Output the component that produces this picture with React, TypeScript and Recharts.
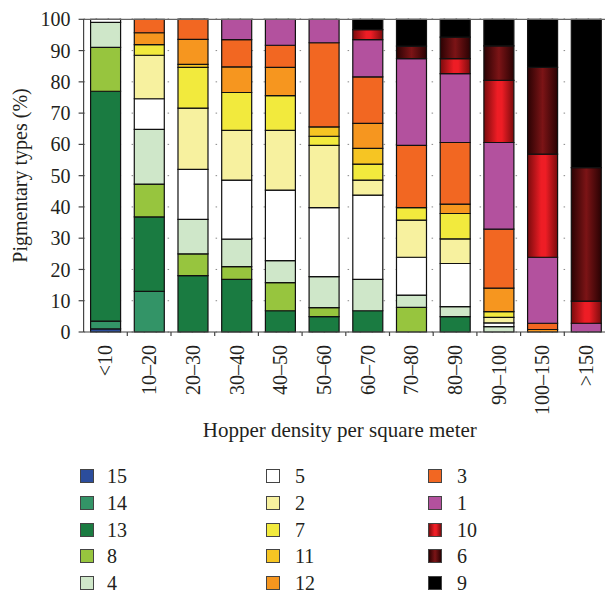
import React from 'react';
import { BarChart, Bar, XAxis, YAxis, CartesianGrid, ReferenceLine, Label } from 'recharts';

const categories = ['<10', '10–20', '20–30', '30–40', '40–50', '50–60', '60–70', '70–80', '80–90', '90–100', '100–150', '>150'];

// pigmentary type shares (%), stacked bottom to top
const type15 = [1, 0, 0, 0, 0, 0, 0, 0, 0, 0, 0, 0];
const type14 = [2.5, 13, 0, 0, 0, 0, 0, 0, 0, 0, 0, 0];
const type13 = [73.5, 23.8, 18, 16.8, 6.8, 4.9, 6.8, 0, 4.9, 0, 0, 0];
const type8 = [14, 10.5, 7, 4.1, 9, 2.9, 0, 7.9, 0, 0, 0, 0];
const type4 = [8, 17.5, 11, 8.8, 7, 9.9, 10, 3.9, 3.2, 1.7, 0, 0];
const type5 = [1, 9.8, 16, 18.9, 22.6, 22.1, 27, 12.1, 13.8, 1.2, 0, 0];
const type2 = [0, 13.9, 19.6, 15.9, 19.1, 19.9, 4.8, 11.9, 7.9, 1.8, 0, 0];
const type7 = [0, 3.4, 13, 12.1, 11.1, 2.9, 5.1, 4, 8.1, 1.8, 0, 0];
const type11 = [0, 0, 1, 0, 0, 3, 5, 0, 0, 0, 0, 0];
const type12 = [0, 3.8, 8, 8.2, 9, 0, 8, 0, 3, 7.5, 0.8, 0];
const type3 = [0, 4.3, 6.5, 8.7, 7.1, 26.9, 14.9, 19.9, 19.7, 18.9, 2, 0];
const type1 = [0, 0, 0, 6.5, 8.3, 7.5, 11.9, 27.7, 22, 27.7, 21.1, 2.8];
const type10 = [0, 0, 0, 0, 0, 0, 3.2, 0, 4.8, 19.9, 33, 7.1];
const type6 = [0, 0, 0, 0, 0, 0, 0, 4, 6.9, 11, 27.7, 42.7];
const type9 = [0, 0, 0, 0, 0, 0, 3.3, 8.6, 5.7, 8.5, 15.4, 47.4];

const yTicks = [0, 10, 20, 30, 40, 50, 60, 70, 80, 90, 100];

const series = [
  { name: '15', values: type15, fill: '#2b4d9c', swatch: '#2b4d9c' },
  { name: '14', values: type14, fill: '#339467', swatch: '#339467' },
  { name: '13', values: type13, fill: '#1a7b41', swatch: '#1a7b41' },
  { name: '8', values: type8, fill: '#97c53e', swatch: '#97c53e' },
  { name: '4', values: type4, fill: '#cfe7c9', swatch: '#cfe7c9' },
  { name: '5', values: type5, fill: '#ffffff', swatch: '#ffffff' },
  { name: '2', values: type2, fill: '#f7f19f', swatch: '#f7f19f' },
  { name: '7', values: type7, fill: '#f2ea3d', swatch: '#f2ea3d' },
  { name: '11', values: type11, fill: '#f6c523', swatch: '#f6c523' },
  { name: '12', values: type12, fill: '#f6961f', swatch: '#f6961f' },
  { name: '3', values: type3, fill: '#f26722', swatch: '#f26722' },
  { name: '1', values: type1, fill: '#b3519e', swatch: '#b3519e' },
  { name: '10', values: type10, fill: 'url(#grad10)', swatch: 'linear-gradient(to right, #7a0b0d, #ee1d25 45%, #ee1d25 60%, #7a0b0d)' },
  { name: '6', values: type6, fill: 'url(#grad6)', swatch: 'linear-gradient(to right, #2a0203, #7c1416 50%, #2a0203)' },
  { name: '9', values: type9, fill: '#000000', swatch: '#000000' },
];

const data = categories.map((name, i) => {
  const row: Record<string, number | string> = { name };
  series.forEach((s) => {
    row['t' + s.name] = s.values[i];
  });
  return row;
});

const CHART_W = 610;
const CHART_H = 440;
const MARGIN = { top: 11, right: 10, left: 0, bottom: 0 };
const Y_AXIS_W = 75.6;
const PLOT_BOTTOM = 324;
const BAND = (CHART_W - MARGIN.right - Y_AXIS_W) / categories.length;
const FONT = '"Liberation Serif", "Times New Roman", serif';
const TEXT = '#231f20';

function CategoryTick(props: any) {
  const { x, payload } = props;
  const ty = PLOT_BOTTOM + 13;
  const edge = x + BAND / 2;
  return (
    <g>
      <line x1={edge} y1={PLOT_BOTTOM} x2={edge} y2={PLOT_BOTTOM + 4} stroke="#444" strokeWidth={1.2} />
      <text
        x={x}
        y={ty}
        transform={`rotate(-90, ${x}, ${ty})`}
        textAnchor="end"
        dominantBaseline="central"
        fontSize={20}
        fill={TEXT}
        fontFamily={FONT}
      >
        {payload.value}
      </text>
    </g>
  );
}

// legend positions (page px)
const legendCols = [80, 266, 428];
const legendLabelCols = [107, 295, 457];
const legendRows = [476, 503, 529.7, 556.3, 583];

export default function App() {
  return (
    <div style={{ position: 'absolute', left: 0, top: 0, width: 605, height: 595, overflow: 'hidden', fontFamily: FONT, background: '#fff' }}>
      <div style={{ position: 'absolute', left: 8, top: 8 }}>
        <BarChart width={CHART_W} height={CHART_H} data={data} margin={MARGIN} barCategoryGap="16%">
          <defs>
            <linearGradient id="grad10" x1="0" y1="0" x2="1" y2="0">
              <stop offset="0%" stopColor="#7a0b0d" />
              <stop offset="45%" stopColor="#ee1d25" />
              <stop offset="60%" stopColor="#ee1d25" />
              <stop offset="100%" stopColor="#7a0b0d" />
            </linearGradient>
            <linearGradient id="grad6" x1="0" y1="0" x2="1" y2="0">
              <stop offset="0%" stopColor="#2a0203" />
              <stop offset="50%" stopColor="#7c1416" />
              <stop offset="100%" stopColor="#2a0203" />
            </linearGradient>
          </defs>
          <CartesianGrid vertical={false} stroke="#888" strokeDasharray="1.5 10.5" />
          <XAxis
            dataKey="name"
            height={CHART_H - PLOT_BOTTOM}
            axisLine={{ stroke: '#444', strokeWidth: 1.2 }}
            tickLine={false}
            tick={<CategoryTick />}
            interval={0}
          >
            <Label
              value="Hopper density per square meter"
              position="insideBottom"
              offset={11}
              dx={-6}
              style={{ fontSize: 21, fill: TEXT, fontFamily: FONT }}
            />
          </XAxis>
          <YAxis
            width={Y_AXIS_W}
            domain={[0, 100]}
            ticks={yTicks}
            interval={0}
            tickSize={5}
            tickMargin={8}
            axisLine={{ stroke: '#444', strokeWidth: 1.2 }}
            tickLine={{ stroke: '#444', strokeWidth: 1.2 }}
            tick={{ fontSize: 20, fill: TEXT, fontFamily: FONT }}
          >
            <Label
              value="Pigmentary types (%)"
              angle={-90}
              position="insideLeft"
              offset={12}
              style={{ fontSize: 20, fill: TEXT, fontFamily: FONT, textAnchor: 'middle' }}
            />
          </YAxis>
          <ReferenceLine y={100} stroke="#666" strokeWidth={1.2} />
          {series.map((s) => (
            <Bar
              key={s.name}
              dataKey={'t' + s.name}
              name={s.name}
              stackId="a"
              fill={s.fill}
              stroke="#111"
              strokeWidth={1.2}
              isAnimationActive={false}
            />
          ))}
        </BarChart>
      </div>
      {series.map((s, i) => {
        const col = Math.floor(i / 5);
        const row = i % 5;
        return (
          <React.Fragment key={s.name}>
            <div
              style={{
                position: 'absolute',
                left: legendCols[col],
                top: legendRows[row] - 7,
                width: 14,
                height: 14,
                boxSizing: 'border-box',
                border: '1.5px solid #444',
                background: s.swatch,
              }}
            />
            <div
              style={{
                position: 'absolute',
                left: legendLabelCols[col],
                top: legendRows[row] - 12,
                height: 24,
                lineHeight: '24px',
                fontSize: 20,
                color: TEXT,
              }}
            >
              {s.name}
            </div>
          </React.Fragment>
        );
      })}
    </div>
  );
}
